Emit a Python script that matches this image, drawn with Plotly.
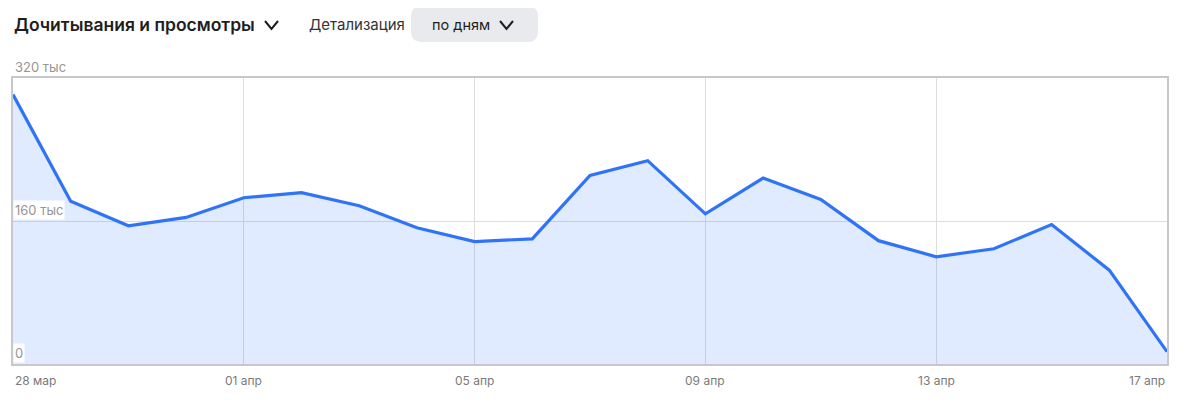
import pandas as pd
import plotly.graph_objects as go

# daily values, thousands
dates = pd.date_range('2024-03-28', '2024-04-17', freq='D')
values = [301.5, 182, 154.7, 164, 186, 191.7, 177, 152.4, 137, 140, 211,
          227.5, 168, 208, 184, 138, 120, 129, 156, 105, 13.8]

y_ticks = [0, 160, 320]
y_labels = ['0', '160 тыс', '320 тыс']
x_ticks = ['2024-03-28', '2024-04-01', '2024-04-05', '2024-04-09', '2024-04-13', '2024-04-17']
x_labels = ['28 мар', '01 апр', '05 апр', '09 апр', '13 апр', '17 апр']

# page body has an 8px margin, so the figure is a bit smaller than the window
OFF = 8
W, H = 1184, 392
L, R, T, B = 5, 25, 70, 36
pw, ph = W - L - R, H - T - B


def px(x):
    return (x - OFF - L) / pw


def py(y):
    return (H - B - (y - OFF)) / ph


def rounded_rect(x0, y0, x1, y1, r):
    a, b, c, d = px(x0), px(x1), py(y0), py(y1)
    rx, ry = r / pw, r / ph
    return (f'M{a+rx},{c} L{b-rx},{c} Q{b},{c} {b},{c-ry} L{b},{d+ry} Q{b},{d} {b-rx},{d} '
            f'L{a+rx},{d} Q{a},{d} {a},{d+ry} L{a},{c-ry} Q{a},{c} {a+rx},{c} Z')


def chevron(x0, y0, w, h):
    return f'M{px(x0)},{py(y0)} L{px(x0 + w/2)},{py(y0 + h)} L{px(x0 + w)},{py(y0)}'


fig = go.Figure()
fig.add_trace(go.Scatter(
    x=dates, y=values, mode='lines', fill='tozeroy',
    line=dict(color='#2f74f6', width=3.2),
    fillcolor='rgba(51,119,255,0.15)', hoverinfo='skip'))

font = 'Inter, Roboto, sans-serif'
ann = []
for v, t in zip(y_ticks, y_labels):
    ann.append(dict(x=0, xref='paper', y=v, yref='y', text=t, showarrow=False,
                    xanchor='left', yanchor='bottom', xshift=0, yshift=1,
                    bgcolor='white' if v != 320 else None, borderpad=1,
                    font=dict(family=font, size=13, color='#959595')))
for i, (d, t) in enumerate(zip(x_ticks, x_labels)):
    anchor = 'left' if i == 0 else ('right' if i == len(x_ticks) - 1 else 'center')
    ann.append(dict(x=d, xref='x', y=0, yref='paper', text=t, showarrow=False,
                    xanchor=anchor, yanchor='top', yshift=-7,
                    font=dict(family=font, size=12, color='#7a7a7a')))

ann.append(dict(x=px(12), y=py(25), xref='paper', yref='paper', text='Дочитывания и просмотры',
                showarrow=False, xanchor='left', yanchor='middle',
                font=dict(family=font, size=17.5, color='#1e1e1e', weight=600)))
ann.append(dict(x=px(307), y=py(25), xref='paper', yref='paper', text='Детализация',
                showarrow=False, xanchor='left', yanchor='middle',
                font=dict(family=font, size=15, color='#333333')))
ann.append(dict(x=px(430), y=py(25), xref='paper', yref='paper', text='по дням',
                showarrow=False, xanchor='left', yanchor='middle',
                font=dict(family=font, size=14.5, color='#1e1e1e')))

shapes = [
    dict(type='path', xref='paper', yref='paper', path=rounded_rect(411, 6, 538, 42, 11),
         fillcolor='#e9eaed', line=dict(width=0), layer='below'),
    dict(type='path', xref='paper', yref='paper', path=chevron(265, 21, 13, 8),
         line=dict(color='#1e1e1e', width=2)),
    dict(type='path', xref='paper', yref='paper', path=chevron(500, 21, 13, 8),
         line=dict(color='#1e1e1e', width=2)),
]

fig.update_layout(
    width=W, height=H, margin=dict(l=L, r=R, t=T, b=B),
    paper_bgcolor='white', plot_bgcolor='white', showlegend=False,
    annotations=ann, shapes=shapes,
    xaxis=dict(range=[dates[0], dates[-1]], tickvals=x_ticks, showticklabels=False,
               showgrid=True, gridcolor='#dddddd', gridwidth=1,
               showline=True, linecolor='#c6c8cc', linewidth=1.5, mirror=True,
               zeroline=False, ticks=''),
    yaxis=dict(range=[0, 320], tickvals=y_ticks, showticklabels=False,
               showgrid=True, gridcolor='#dddddd', gridwidth=1,
               showline=True, linecolor='#c6c8cc', linewidth=1.5, mirror=True,
               zeroline=False, ticks=''),
)

fig.write_html('out.html')
